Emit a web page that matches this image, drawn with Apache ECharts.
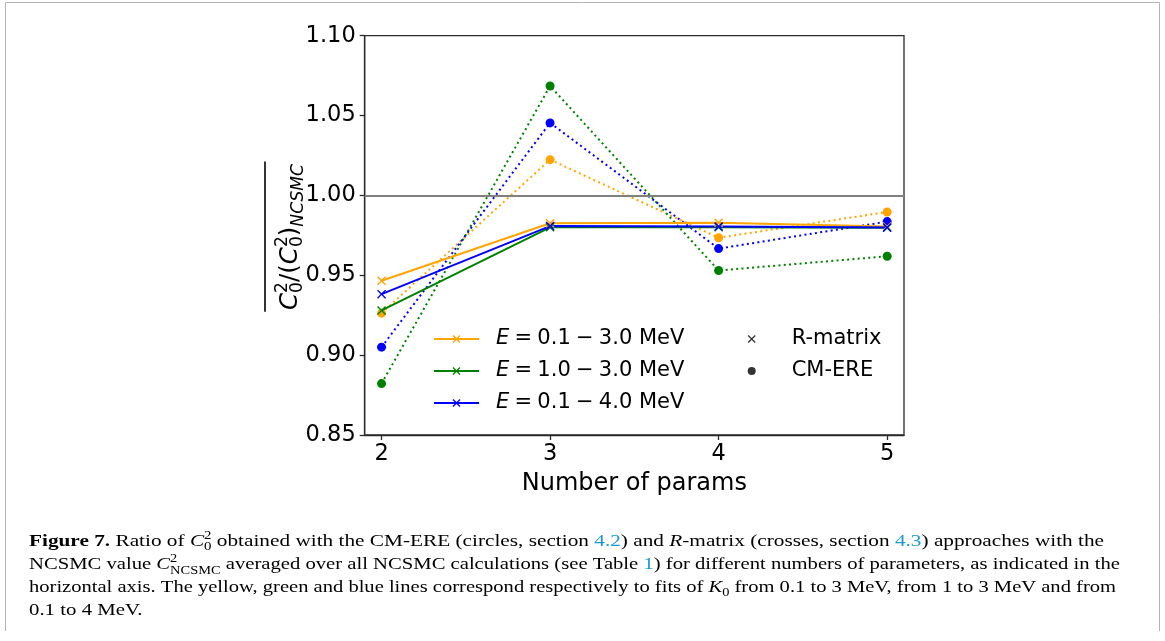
<!DOCTYPE html>
<html>
<head>
<meta charset="utf-8">
<script src="https://cdn.jsdelivr.net/npm/echarts@6/dist/echarts.min.js"></script>
<style>
  html, body { margin: 0; padding: 0; background: #ffffff; }
  #chart { width: 1165px; height: 641px; }
</style>
</head>
<body>
<div id="chart"></div>
<script>
// Number of fit parameters (x axis)
const paramCounts = [2, 3, 4, 5];
const xTickValues = [2, 3, 4, 5];

// Energy windows of the fits (legend labels)
const rangeLabels = ['E = 0.1 − 3.0 MeV', 'E = 1.0 − 3.0 MeV', 'E = 0.1 − 4.0 MeV'];

// R-matrix ratios (crosses, solid lines)
const rMatrix01to30 = [0.9466, 0.9826, 0.9829, 0.9805];
const rMatrix10to30 = [0.9280, 0.9800, 0.9801, 0.9797];
const rMatrix01to40 = [0.9382, 0.9808, 0.9806, 0.9799];

// CM-ERE ratios (circles, dotted lines)
const cmEre01to30 = [0.9263, 1.0224, 0.9735, 0.9896];
const cmEre10to30 = [0.8822, 1.0685, 0.9530, 0.9619];
const cmEre01to40 = [0.9050, 1.0454, 0.9667, 0.9836];

// Reference ratio
const unityRatio = 1.0;

const rMatrixSets = [rMatrix01to30, rMatrix10to30, rMatrix01to40];
const cmEreSets = [cmEre01to30, cmEre10to30, cmEre01to40];
const seriesColors = ['#ffa500', '#008000', '#0000ff'];

const crossPath = 'path://M0,1.1L1.1,0L5,3.9L8.9,0L10,1.1L6.1,5L10,8.9L8.9,10L5,6.1L1.1,10L0,8.9L3.9,5Z';
const axisColor = '#2a2a2a';
const sansFamily = '"DejaVu Sans"';
const serifFamily = '"Liberation Serif"';

const pairs = vals => paramCounts.map((p, i) => [p, vals[i]]);

// ---- small text layout helper for mixed-style lines (math-like labels, caption) ----
const measureCtx = document.createElement('canvas').getContext('2d');
function fontStr(size, st, family) {
  const s = st && st.indexOf('i') >= 0 ? 'italic ' : '';
  const w = st && st.indexOf('b') >= 0 ? 'bold ' : '';
  return s + w + size + 'px ' + family;
}
function layoutRun(tokens, size, family, mid) {
  const children = [];
  let x = 0;
  tokens.forEach(tk => {
    const sz = size * (tk.sc || 1);
    const font = fontStr(sz, tk.st, family);
    measureCtx.font = font;
    const w = measureCtx.measureText(tk.t).width;
    const baseline = -(tk.up || 0) * size;
    children.push({
      type: 'text', x: x, y: baseline - mid * sz, silent: true,
      style: {
        text: tk.t, font: font, fill: tk.c || '#000',
        align: 'left', verticalAlign: 'middle',
        textAlign: 'left', textVerticalAlign: 'middle'
      }
    });
    if (tk.adv !== false) x += w;
  });
  return { children: children, width: x };
}

// ---- y-axis title: overline{C_0^2/(C_0^2)_NCSMC} ----
const yTitleTokens = [
  { t: 'C', st: 'i' }, { t: '2', sc: 0.7, up: 0.44, adv: false }, { t: '0', sc: 0.7, up: -0.16 },
  { t: '/' }, { t: '(' },
  { t: 'C', st: 'i' }, { t: '2', sc: 0.7, up: 0.44, adv: false }, { t: '0', sc: 0.7, up: -0.16 },
  { t: ')' }, { t: 'NCSMC', st: 'i', sc: 0.7, up: -0.2 }
];
const yTitle = layoutRun(yTitleTokens, 23.5, sansFamily, 0.346);
const yTitleScale = 146 / yTitle.width;

// ---- caption ----
const linkBlue = '#1e98d5';
const captionLines = [
  [
    { t: 'Figure 7.', st: 'b' }, { t: ' Ratio of ' }, { t: 'C', st: 'i' },
    { t: '2', sc: 0.7, up: 0.45, adv: false }, { t: '0', sc: 0.7, up: -0.22 },
    { t: ' obtained with the CM-ERE (circles, section ' }, { t: '4.2', c: linkBlue },
    { t: ') and ' }, { t: 'R', st: 'i' }, { t: '-matrix (crosses, section ' },
    { t: '4.3', c: linkBlue }, { t: ') approaches with the' }
  ],
  [
    { t: 'NCSMC value ' }, { t: 'C', st: 'i' },
    { t: '2', sc: 0.7, up: 0.45, adv: false }, { t: 'NCSMC', sc: 0.7, up: -0.25 },
    { t: ' averaged over all NCSMC calculations (see Table ' }, { t: '1', c: linkBlue },
    { t: ') for different numbers of parameters, as indicated in the' }
  ],
  [
    { t: 'horizontal axis. The yellow, green and blue lines correspond respectively to fits of ' },
    { t: 'K', st: 'i' }, { t: '0', sc: 0.7, up: -0.22 },
    { t: ' from 0.1 to 3 MeV, from 1 to 3 MeV and from' }
  ],
  [
    { t: '0.1 to 4 MeV.' }
  ]
];
const captionLeft = 29;
const captionRights = [1104, 1120, 1116, null];
const captionBaselines = [547.3, 570.4, 593.6, 616.7];
const captionSize = 17;
const captionRuns = captionLines.map(tk => layoutRun(tk, captionSize, serifFamily, 0.3375));
const captionScales = captionRuns.map((r, i) => captionRights[i] ? (captionRights[i] - captionLeft) / r.width : null);
const avgScale = (captionScales[0] + captionScales[1] + captionScales[2]) / 3;

const graphicElements = [
  // frame around the figure
  {
    type: 'polyline', silent: true,
    shape: { points: [[5.5, 631], [5.5, 2.5], [1159.5, 2.5], [1159.5, 631]] },
    style: { stroke: '#b4b4b4', lineWidth: 1, fill: null }
  },
  // y-axis title
  {
    type: 'group', x: 299.5, y: 310, rotation: Math.PI / 2,
    scaleX: yTitleScale, scaleY: yTitleScale, silent: true,
    children: yTitle.children
  },
  {
    type: 'line', silent: true,
    shape: { x1: 265, y1: 161.5, x2: 265, y2: 311.7 },
    style: { stroke: '#000', lineWidth: 1.6 }
  }
];
captionRuns.forEach((r, i) => {
  graphicElements.push({
    type: 'group', x: captionLeft, y: captionBaselines[i],
    scaleX: captionScales[i] || avgScale, scaleY: 1, silent: true,
    children: r.children
  });
});

// ---- series ----
const series = [];
cmEreSets.forEach((vals, i) => {
  series.push({
    name: 'CM-ERE ' + rangeLabels[i],
    type: 'line', data: pairs(vals), z: 3,
    symbol: 'circle', symbolSize: 9, showSymbol: true,
    lineStyle: { color: seriesColors[i], width: 2, type: [2, 3.3] },
    itemStyle: { color: seriesColors[i], borderWidth: 0 },
    emphasis: { disabled: true }
  });
});
rMatrixSets.forEach((vals, i) => {
  series.push({
    name: rangeLabels[i],
    type: 'line', data: pairs(vals), z: 4,
    symbol: crossPath, symbolSize: 9, showSymbol: true,
    lineStyle: { color: seriesColors[i], width: 2, type: 'solid' },
    itemStyle: { color: seriesColors[i], borderWidth: 0 },
    emphasis: { disabled: true }
  });
});
// marker-only entries for the method legend
series.push({ name: 'R-matrix', type: 'scatter', data: [], symbol: crossPath, itemStyle: { color: '#000' } });
series.push({ name: 'CM-ERE', type: 'scatter', data: [], symbol: 'circle', itemStyle: { color: '#000' } });
// horizontal reference line at ratio 1
series.push({
  name: 'unity', type: 'line', data: [], z: 2, silent: true,
  markLine: {
    silent: true, symbol: 'none', animation: false,
    label: { show: false },
    lineStyle: { color: '#808080', width: 2, type: 'solid' },
    data: [{ yAxis: unityRatio }]
  }
});

// math-style spacing around "=" and "−" in the energy labels
const mathSp = '\u2005';
const legendLabel = name => '{i|E}' + name.slice(1).replace(/ = /, mathSp + '=' + mathSp).replace(/ − /, mathSp + '−' + mathSp);

const option = {
  animation: false,
  backgroundColor: '#ffffff',
  grid: {
    left: 364.7, right: 261, top: 35.7, bottom: 206,
    show: true, borderColor: axisColor, borderWidth: 1.3,
    outerBoundsMode: 'none', containLabel: false
  },
  xAxis: {
    type: 'value', min: 1.9, max: 5.1,
    name: 'Number of params', nameLocation: 'middle', nameGap: 37,
    nameTextStyle: { fontFamily: sansFamily, fontSize: 24, color: '#000' },
    axisLine: { show: true, lineStyle: { color: axisColor, width: 1.3 } },
    axisTick: { show: true, length: 5, customValues: xTickValues, lineStyle: { color: axisColor, width: 1.3 } },
    axisLabel: {
      customValues: xTickValues, margin: 8,
      fontFamily: sansFamily, fontSize: 22.5, color: '#000',
      formatter: v => String(v)
    },
    splitLine: { show: false }
  },
  yAxis: {
    type: 'value', min: 0.85, max: 1.10, interval: 0.05,
    axisLine: { show: true, lineStyle: { color: axisColor, width: 1.3 } },
    axisTick: { show: true, length: 5, lineStyle: { color: axisColor, width: 1.3 } },
    axisLabel: {
      margin: 9, fontFamily: sansFamily, fontSize: 22.5, color: '#000',
      formatter: v => v.toFixed(2)
    },
    splitLine: { show: false }
  },
  legend: [
    {
      data: rangeLabels, orient: 'vertical', left: 433, top: 328, padding: 0,
      itemWidth: 45, itemHeight: 10, itemGap: 10, selectedMode: false,
      formatter: legendLabel,
      textStyle: {
        fontFamily: sansFamily, fontSize: 21, color: '#000', lineHeight: 22,
        padding: [0, 0, 0, 12],
        rich: { i: { fontFamily: sansFamily, fontStyle: 'italic', fontSize: 21, color: '#000', lineHeight: 22 } }
      }
    },
    {
      data: ['R-matrix', 'CM-ERE'], orient: 'vertical', left: 747.7, top: 328, padding: 0,
      itemWidth: 8, itemHeight: 8, itemGap: 10, selectedMode: false,
      textStyle: {
        fontFamily: sansFamily, fontSize: 21, color: '#000', lineHeight: 22,
        padding: [0, 0, 0, 31]
      }
    }
  ],
  graphic: { elements: graphicElements },
  series: series
};

const chart = echarts.init(document.getElementById('chart'), null, { renderer: 'canvas' });
chart.setOption(option);
</script>
</body>
</html>
